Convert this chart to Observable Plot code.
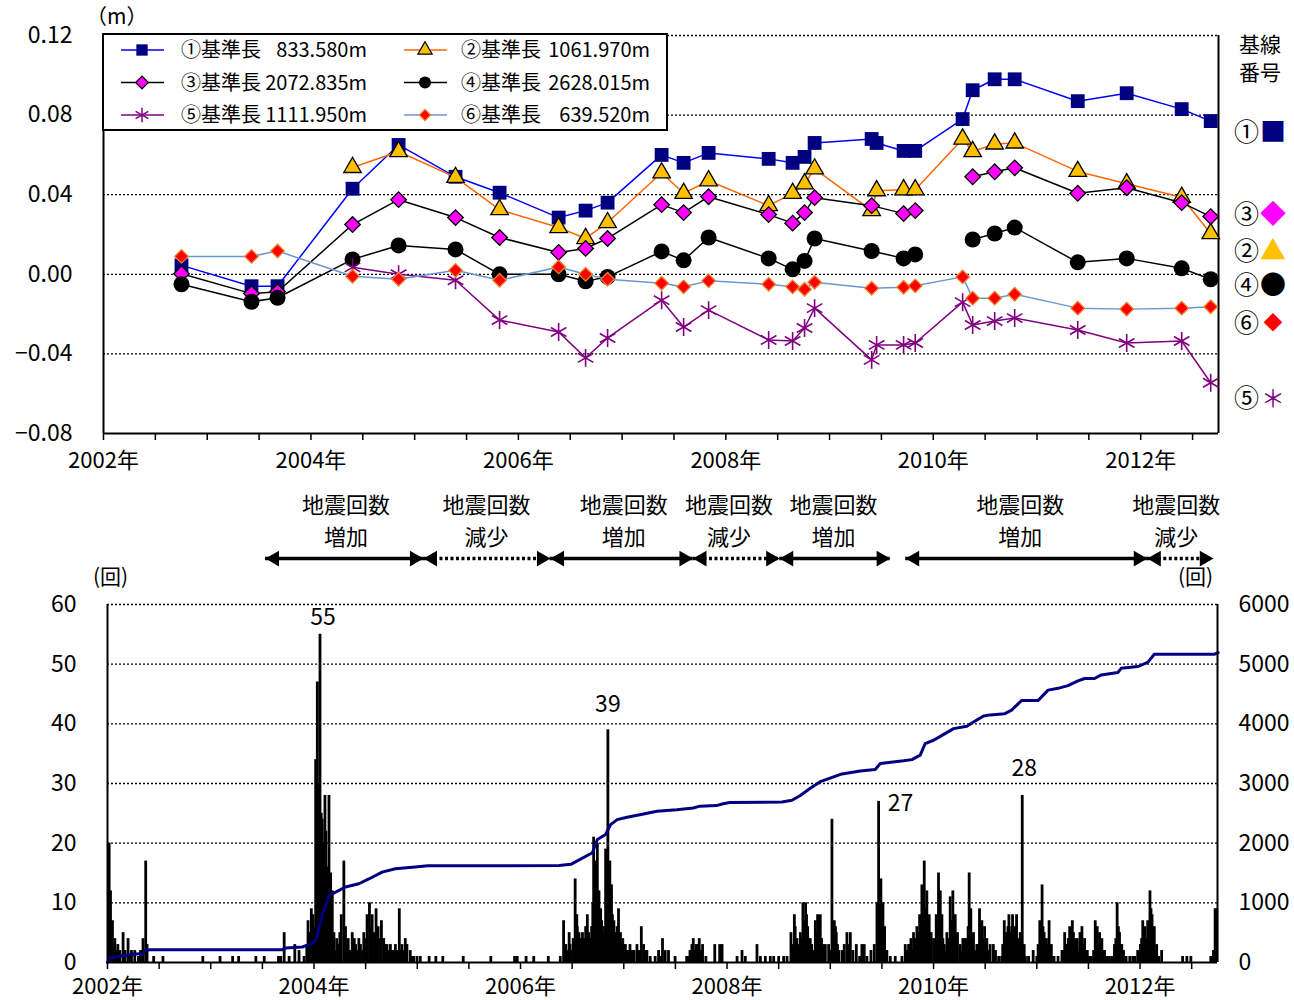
<!DOCTYPE html>
<html><head><meta charset="utf-8">
<script src="https://cdn.jsdelivr.net/npm/d3@7"></script>
<script src="https://cdn.jsdelivr.net/npm/@observablehq/plot@0.6"></script>
<style>
body{margin:0;background:#fff;font-family:"Noto Sans CJK JP","Noto Sans",sans-serif;color:#000;}
#wrap{position:relative;width:1294px;height:1000px;overflow:hidden;}
.abs{position:absolute;white-space:nowrap;line-height:1;}
</style></head><body><div id="wrap"></div><script>
// ---------------- data: baseline lengths (top chart) ----------------
const obsDates = [2002.752, 2003.427, 2003.678, 2004.401, 2004.845, 2005.394, 2005.819, 2006.388, 2006.648, 2006.86,
  2007.381, 2007.593, 2007.834, 2008.413, 2008.644, 2008.759, 2008.856, 2009.406, 2009.454, 2009.714, 2009.826,
  2010.283, 2010.38, 2010.592, 2010.785, 2011.393, 2011.865, 2012.395, 2012.675];
// null = not observed, NaN = line broken
const s1 = [0.0045, -0.006, -0.006, 0.043, 0.065, 0.049, 0.041, 0.0285, 0.032, 0.036, 0.060, 0.056, 0.061, 0.058, 0.056, 0.059, 0.066, 0.068, 0.066, 0.062, 0.062, 0.078, 0.0925, 0.098, 0.098, 0.087, 0.091, 0.083, 0.077];
const s2 = [null, null, null, 0.0537, 0.0617, 0.0487, 0.0325, 0.0235, 0.018, 0.026, 0.051, 0.0407, 0.047, 0.0345, 0.0407, 0.0455, 0.053, 0.032, 0.042, 0.0425, 0.0425, 0.068, 0.0617, 0.0655, 0.066, 0.0517, 0.0455, 0.0387, 0.0205];
const s3 = [0.0003, -0.0097, -0.0088, 0.025, 0.0375, 0.0285, 0.0185, 0.011, 0.013, 0.018, 0.035, 0.031, 0.039, 0.030, 0.0257, 0.031, 0.0385, 0.0345, null, 0.0305, 0.032, NaN, 0.049, 0.0515, 0.0535, 0.0407, 0.0435, 0.036, 0.029];
const s4 = [-0.005, -0.0138, -0.0118, 0.0075, 0.0145, 0.0125, 0.0, 0.0, -0.0035, -0.0013, 0.0115, 0.007, 0.0185, 0.008, 0.0025, 0.0067, 0.018, 0.0117, null, 0.008, 0.010, NaN, 0.0175, 0.0205, 0.0235, 0.006, 0.008, 0.003, -0.0025];
const s5 = [null, null, null, 0.0035, 0.0, -0.003, -0.023, -0.029, -0.042, -0.032, -0.013, -0.0265, -0.018, -0.033, -0.0335, -0.027, -0.017, -0.043, -0.0355, -0.0355, -0.0345, -0.014, -0.0255, -0.0235, -0.022, -0.028, -0.0345, -0.0335, -0.0545];
const s6 = [0.009, 0.009, 0.0117, -0.001, -0.0025, 0.002, -0.003, 0.0037, 0.0, -0.0025, -0.0045, -0.0063, -0.0033, -0.005, -0.0063, -0.0075, -0.004, -0.007, null, -0.0065, -0.0058, -0.0013, -0.012, -0.012, -0.010, -0.017, -0.0175, -0.017, -0.0163];
const seriesNames = ["①基準長", "②基準長", "③基準長", "④基準長", "⑤基準長", "⑥基準長"];
const seriesLengths = ["833.580m", "1061.970m", "2072.835m", "2628.015m", "1111.950m", "639.520m"];
const topTicks = [-0.08, -0.04, 0, 0.04, 0.08, 0.12];
const topGrid = [-0.04, 0, 0.04, 0.08, 0.12];

// ---------------- data: earthquake counts (bottom chart) ----------------
const dailyCounts = [
 [2002.016,20],[2002.029,12],[2002.048,7],[2002.071,4],[2002.087,2],[2002.10,3],[2002.12,2],[2002.151,5],[2002.17,2],[2002.199,4],[2002.21,1],[2002.232,2],[2002.264,2],[2002.30,1],[2002.32,2],[2002.344,4],[2002.370,17],[2002.383,3],[2002.447,1],[2002.537,1],[2002.923,1],
 [2003.090,1],[2003.212,1],[2003.270,1],[2003.437,1],[2003.518,1],[2003.656,1],[2003.678,1],[2003.711,5],[2003.759,1],[2003.814,3],[2003.855,2],[2003.904,1],[2003.93,3],[2003.942,7],[2003.96,5],[2003.974,9],[2003.99,8],
 [2004.0,6],[2004.016,34],[2004.032,47],[2004.04,20],[2004.05,30],[2004.058,55],[2004.07,25],[2004.080,24],[2004.09,20],[2004.10,18],[2004.106,28],[2004.115,22],[2004.122,16],[2004.13,14],[2004.14,12],[2004.145,28],[2004.155,10],[2004.161,15],[2004.17,8],[2004.177,12],[2004.193,5],[2004.209,2],[2004.22,4],[2004.241,3],[2004.25,5],[2004.264,8],[2004.289,17],[2004.305,6],[2004.32,3],[2004.331,4],[2004.35,2],[2004.370,5],[2004.39,4],[2004.402,3],[2004.42,2],[2004.434,4],[2004.45,3],[2004.47,2],[2004.482,5],[2004.50,4],[2004.514,8],[2004.537,10],[2004.55,6],[2004.563,8],[2004.58,5],[2004.601,9],[2004.621,6],[2004.64,4],[2004.653,7],[2004.675,4],[2004.69,3],[2004.707,3],[2004.72,2],[2004.74,3],[2004.756,2],[2004.77,2],[2004.788,3],[2004.80,2],[2004.826,9],[2004.84,2],[2004.852,3],[2004.87,2],[2004.884,4],[2004.90,3],[2004.932,2],[2004.95,1],[2004.965,1],[2004.997,1],
 [2005.029,1],[2005.115,1],[2005.18,1],[2005.247,1],[2005.445,1],[2005.712,1],[2005.942,1],[2005.968,1],
 [2006.054,1],[2006.128,1],[2006.269,1],[2006.385,1],[2006.417,7],[2006.439,3],[2006.45,2],[2006.471,5],[2006.48,3],[2006.503,2],[2006.51,4],[2006.529,14],[2006.545,8],[2006.55,6],[2006.567,5],[2006.58,4],[2006.590,3],[2006.60,5],[2006.615,4],[2006.631,6],[2006.647,8],[2006.66,5],[2006.670,4],[2006.68,3],[2006.689,6],[2006.70,10],[2006.708,21],[2006.72,12],[2006.728,17],[2006.735,15],[2006.744,20],[2006.75,9],[2006.760,12],[2006.77,8],[2006.776,9],[2006.785,7],[2006.792,6],[2006.80,5],[2006.808,4],[2006.815,6],[2006.824,19],[2006.835,10],[2006.846,39],[2006.855,12],[2006.865,17],[2006.873,10],[2006.881,13],[2006.89,8],[2006.904,7],[2006.915,5],[2006.926,4],[2006.935,6],[2006.949,9],[2006.958,4],[2006.968,5],[2006.98,3],[2006.990,4],
 [2007.0,3],[2007.016,3],[2007.03,2],[2007.048,2],[2007.06,3],[2007.080,2],[2007.10,2],[2007.128,3],[2007.15,2],[2007.170,6],[2007.192,3],[2007.21,2],[2007.224,2],[2007.256,1],[2007.304,1],[2007.337,2],[2007.36,1],[2007.375,4],[2007.401,2],[2007.433,2],[2007.497,1],[2007.609,1],[2007.62,1],[2007.641,2],[2007.66,3],[2007.673,4],[2007.69,2],[2007.699,3],[2007.72,3],[2007.731,4],[2007.75,2],[2007.763,3],[2007.795,1],[2007.881,3],[2007.929,3],[2007.952,3],
 [2008.097,1],[2008.145,2],[2008.177,1],[2008.290,3],[2008.323,1],[2008.371,1],[2008.419,1],[2008.452,1],[2008.5,1],[2008.548,1],[2008.581,1],[2008.619,5],[2008.64,3],[2008.652,8],[2008.66,6],[2008.677,4],[2008.69,3],[2008.71,5],[2008.72,4],[2008.735,10],[2008.75,7],[2008.761,10],[2008.77,8],[2008.781,6],[2008.79,4],[2008.806,4],[2008.82,3],[2008.839,2],[2008.855,7],[2008.865,5],[2008.877,8],[2008.89,6],[2008.903,8],[2008.915,4],[2008.929,3],[2008.952,3],[2008.984,3],
 [2009.0,2],[2009.016,24],[2009.03,4],[2009.039,7],[2009.05,6],[2009.058,5],[2009.07,3],[2009.081,2],[2009.113,2],[2009.135,3],[2009.161,5],[2009.17,3],[2009.194,5],[2009.219,2],[2009.252,3],[2009.284,1],[2009.306,3],[2009.329,3],[2009.355,1],[2009.394,2],[2009.426,3],[2009.452,10],[2009.46,5],[2009.468,27],[2009.48,8],[2009.490,14],[2009.50,9],[2009.510,10],[2009.52,4],[2009.526,6],[2009.548,2],[2009.581,1],[2009.629,1],[2009.694,1],[2009.726,3],[2009.74,2],[2009.758,3],[2009.77,3],[2009.781,4],[2009.79,2],[2009.806,5],[2009.82,4],[2009.839,6],[2009.85,5],[2009.865,8],[2009.875,7],[2009.887,13],[2009.90,10],[2009.910,17],[2009.92,9],[2009.935,12],[2009.945,6],[2009.958,8],[2009.97,4],[2009.977,5],
 [2010.0,4],[2010.01,3],[2010.026,8],[2010.037,6],[2010.048,15],[2010.057,10],[2010.065,12],[2010.073,6],[2010.081,8],[2010.09,4],[2010.103,3],[2010.115,2],[2010.129,5],[2010.145,4],[2010.161,11],[2010.17,7],[2010.187,12],[2010.20,6],[2010.210,8],[2010.22,4],[2010.232,5],[2010.258,3],[2010.27,2],[2010.284,4],[2010.306,4],[2010.323,4],[2010.335,6],[2010.345,15],[2010.361,9],[2010.37,4],[2010.387,5],[2010.40,2],[2010.419,3],[2010.43,3],[2010.445,9],[2010.455,5],[2010.468,7],[2010.48,4],[2010.494,6],[2010.505,3],[2010.516,4],[2010.53,2],[2010.548,3],[2010.579,3],[2010.60,2],[2010.63,1],[2010.659,1],[2010.67,3],[2010.685,7],[2010.695,4],[2010.707,5],[2010.72,6],[2010.730,8],[2010.74,3],[2010.749,5],[2010.757,6],[2010.765,8],[2010.777,4],[2010.788,6],[2010.795,5],[2010.804,8],[2010.812,3],[2010.820,4],[2010.83,3],[2010.839,5],[2010.85,4],[2010.859,28],[2010.87,2],[2010.878,3],[2010.89,1],[2010.92,1],[2010.965,2],
 [2011.00,1],[2011.013,3],[2011.029,7],[2011.04,4],[2011.051,13],[2011.06,6],[2011.071,5],[2011.08,3],[2011.093,4],[2011.105,3],[2011.119,7],[2011.13,2],[2011.141,3],[2011.15,1],[2011.167,1],[2011.206,1],[2011.244,2],[2011.26,2],[2011.270,5],[2011.285,3],[2011.296,2],[2011.305,4],[2011.318,6],[2011.33,3],[2011.344,7],[2011.355,5],[2011.367,4],[2011.38,3],[2011.392,4],[2011.405,2],[2011.418,5],[2011.437,6],[2011.45,3],[2011.463,4],[2011.475,2],[2011.489,2],[2011.51,1],[2011.527,1],[2011.55,2],[2011.566,7],[2011.575,4],[2011.585,6],[2011.595,3],[2011.608,5],[2011.62,2],[2011.630,4],[2011.64,2],[2011.656,2],[2011.68,1],[2011.704,1],[2011.73,1],[2011.752,3],[2011.765,4],[2011.778,10],[2011.79,6],[2011.801,5],[2011.81,3],[2011.823,3],[2011.84,2],[2011.865,1],[2011.90,1],[2011.929,1],[2011.95,1],[2011.977,2],[2011.99,2],
 [2012.003,3],[2012.015,4],[2012.026,7],[2012.037,5],[2012.048,6],[2012.06,4],[2012.074,7],[2012.085,6],[2012.096,12],[2012.106,9],[2012.116,8],[2012.127,4],[2012.138,6],[2012.15,2],[2012.161,3],[2012.18,1],[2012.209,2],[2012.412,1],[2012.453,1],[2012.492,1],[2012.685,1],[2012.70,1],[2012.711,2],[2012.727,9],[2012.743,9]
];
const cumulative = [
 [2002.0,0],[2002.023,70],[2002.087,95],[2002.183,120],[2002.248,140],[2002.344,150],[2002.370,205],[2002.408,215],[2003.695,215],[2003.727,245],[2003.887,260],[2003.984,320],[2004.016,375],[2004.080,790],[2004.145,1125],[2004.177,1150],[2004.305,1265],[2004.434,1320],[2004.531,1400],[2004.659,1515],[2004.788,1570],[2004.981,1600],[2005.1,1620],[2006.375,1625],[2006.487,1645],[2006.696,1840],[2006.744,2060],[2006.824,2145],[2006.872,2310],[2006.936,2395],[2007.032,2435],[2007.192,2490],[2007.321,2535],[2007.513,2560],[2007.673,2590],[2007.737,2620],[2007.897,2630],[2007.962,2660],[2008.026,2680],[2008.532,2690],[2008.629,2720],[2008.710,2800],[2008.806,2920],[2008.903,3030],[2009.032,3110],[2009.113,3160],[2009.290,3210],[2009.435,3235],[2009.484,3335],[2009.710,3380],[2009.790,3400],[2009.871,3475],[2009.919,3670],[2010.0,3725],[2010.065,3790],[2010.194,3920],[2010.323,3960],[2010.387,4030],[2010.484,4130],[2010.548,4150],[2010.691,4170],[2010.756,4230],[2010.852,4390],[2011.013,4390],[2011.109,4565],[2011.206,4595],[2011.302,4640],[2011.399,4720],[2011.463,4760],[2011.559,4760],[2011.624,4820],[2011.785,4860],[2011.817,4930],[2011.977,4960],[2012.074,5030],[2012.138,5165],[2012.717,5165],[2012.756,5195]
];
const peaks = [[2004.058,55],[2006.846,39],[2009.468,27],[2010.859,28]];
const countTicks = [0,10,20,30,40,50,60];
const cumTicks = [0,1000,2000,3000,4000,5000,6000];

// ---------------- data: trend arrows ----------------
const arrowFrom  = [2003.53, 2005.06, 2006.29, 2007.67, 2008.51, 2009.73, 2012.07];
const arrowTo    = [2005.06, 2006.29, 2007.67, 2008.51, 2009.58, 2012.07, 2012.71];
const arrowTrend = ["増加", "減少", "増加", "減少", "増加", "増加", "減少"];
const arrowLabelX = [2004.31, 2005.67, 2007.0, 2008.02, 2009.03, 2010.84, 2012.35];

// ---------------- shared ----------------
const FONT = '"Noto Sans CJK JP","Noto Sans",sans-serif';
const xDomain = [2002, 2012.75];
const halfYears = d3.range(2002, 2012.75, 0.5);
const yearFmt = d => (d % 2 === 0 ? `${d}年` : "");
const wrap = document.getElementById("wrap");
function place(node, left, top) {
  const div = document.createElement("div");
  div.className = "abs"; div.style.left = left + "px"; div.style.top = top + "px";
  div.appendChild(node); wrap.appendChild(div); return div;
}
function label(html, left, top, size, extra = "") {
  const div = document.createElement("div");
  div.className = "abs";
  div.style.cssText += `left:${left}px;top:${top}px;font-size:${size}px;${extra}`;
  div.innerHTML = html; wrap.appendChild(div); return div;
}

const styles = [
  {line: "#0000ff", symbol: "square", r: 7.8, fill: "#000080", stroke: "none", rotate: 0},
  {line: "#ff6600", symbol: "triangle", r: 6.5, fill: "#ffc000", stroke: "#000", rotate: 0},
  {line: "#000000", symbol: "square", r: 6.2, fill: "#ff00ff", stroke: "#000", rotate: 45},
  {line: "#000000", symbol: "circle", r: 8, fill: "#000", stroke: "none", rotate: 0},
  {line: "#800080", symbol: "asterisk", r: 8.5, fill: "none", stroke: "#800080", rotate: 0},
  {line: "#6a97cf", symbol: "square", r: 5.4, fill: "#ff0000", stroke: "#e8832a", rotate: 45}
];
const allSeries = [s1, s2, s3, s4, s5, s6];

// ---------------- top plot ----------------
const seriesMarks = allSeries.flatMap((vals, i) => {
  const st = styles[i];
  const rows = obsDates.map((d, j) => ({x: d, y: vals[j]})).filter(r => r.y !== null);
  return [
    Plot.line(rows, {x: "x", y: "y", stroke: st.line, strokeWidth: 1.5}),
    Plot.dot(rows.filter(r => Number.isFinite(r.y)), {x: "x", y: "y", symbol: st.symbol, r: st.r,
      fill: st.fill, stroke: st.stroke, strokeWidth: st.symbol === "asterisk" ? 1.6 : 1.3, rotate: st.rotate})
  ];
});
const topPlot = Plot.plot({
  width: 1294, height: 480,
  marginLeft: 103, marginRight: 76, marginTop: 35, marginBottom: 47,
  style: {fontFamily: FONT, fontSize: "21px", background: "transparent", overflow: "visible", color: "#000"},
  x: {domain: xDomain},
  y: {domain: [-0.08, 0.12]},
  marks: [
    Plot.ruleY(topGrid, {stroke: "#000", strokeDasharray: "2,2", strokeWidth: 1.3}),
    Plot.ruleY([-0.08], {stroke: "#000", strokeWidth: 2}),
    Plot.ruleX(xDomain, {stroke: "#000", strokeWidth: 2}),
    Plot.axisY({ticks: topTicks, tickFormat: d => (d < 0 ? "−" : "") + Math.abs(d).toFixed(2), tickSize: 0, tickPadding: 31, fontSize: 23, label: null}),
    Plot.axisX({ticks: halfYears, tickFormat: yearFmt, tickSize: 7, tickPadding: 12, fontSize: 22, label: null, strokeWidth: 1.5}),
    ...seriesMarks
  ]
});
place(topPlot, 0, 0);

// ---------------- middle (arrows) ----------------
const segs = arrowFrom.map((a, i) => ({from: a, to: arrowTo[i], trend: arrowTrend[i]}));
const segLabels = arrowLabelX.map((x, i) => ({x, trend: arrowTrend[i]}));
const AY = () => 0.133;
const midPlot = Plot.plot({
  width: 1294, height: 90,
  marginLeft: 107, marginRight: 77, marginTop: 0, marginBottom: 0,
  style: {fontFamily: FONT, background: "transparent", overflow: "visible", color: "#000"},
  x: {domain: xDomain, axis: null},
  y: {domain: [0, 1], axis: null},
  marks: [
    Plot.ruleY(segs.filter(d => d.trend === "増加"), {x1: "from", x2: "to", y: AY, stroke: "#000", strokeWidth: 3.5}),
    Plot.ruleY(segs.filter(d => d.trend === "減少"), {x1: "from", x2: "to", y: AY, stroke: "#000", strokeWidth: 3.5, strokeDasharray: "3,2.5"}),
    Plot.dot(segs, {x: "from", y: AY, symbol: "triangle2", r: 7.5, rotate: -90, fill: "#000", dx: 9}),
    Plot.dot(segs, {x: "to", y: AY, symbol: "triangle2", r: 7.5, rotate: 90, fill: "#000", dx: -9}),
    Plot.text(segLabels, {x: "x", y: () => 0.722, text: () => "地震回数", fontSize: 22}),
    Plot.text(segLabels, {x: "x", y: () => 0.367, text: "trend", fontSize: 22})
  ]
});
place(midPlot, 0, 480);

// ---------------- bottom plot ----------------
const peakOffsets = [[3, -17], [0, -25], [22, 2], [2, -27]];
const botPlot = Plot.plot({
  width: 1294, height: 430,
  marginLeft: 107, marginRight: 77, marginTop: 34, marginBottom: 38,
  style: {fontFamily: FONT, fontSize: "21px", background: "transparent", overflow: "visible", color: "#000"},
  x: {domain: xDomain},
  y: {domain: [0, 60]},
  marks: [
    Plot.ruleY(countTicks.slice(1), {stroke: "#000", strokeDasharray: "2,2", strokeWidth: 1.3}),
    Plot.ruleX(dailyCounts, {x: d => d[0], y1: 0, y2: d => d[1], stroke: "#000", strokeWidth: 2.8}),
    Plot.line(cumulative, {x: d => d[0], y: d => d[1] / 100, stroke: "#000080", strokeWidth: 3}),
    Plot.ruleY([0], {stroke: "#000", strokeWidth: 2}),
    Plot.ruleX(xDomain, {stroke: "#000", strokeWidth: 2}),
    Plot.axisY({anchor: "left", ticks: countTicks, tickSize: 0, tickPadding: 31, fontSize: 23, label: null}),
    Plot.axisY({anchor: "right", ticks: cumTicks.map(v => v / 100), tickFormat: d => String(Math.round(d * 100)), tickSize: 0, tickPadding: 21, fontSize: 23, label: null}),
    Plot.axisX({ticks: halfYears, tickFormat: yearFmt, tickSize: 7, tickPadding: 9, fontSize: 22, label: null, strokeWidth: 1.5}),
    ...peaks.map((p, i) => Plot.text([p], {x: d => d[0], y: d => d[1], text: d => String(d[1]), dx: peakOffsets[i][0], dy: peakOffsets[i][1], fontSize: 23}))
  ]
});
place(botPlot, 0, 570);

// ---------------- legend box ----------------
const lg = d3.create("svg").attr("width", 568).attr("height", 100)
  .style("font-family", FONT).style("overflow", "visible");
lg.append("rect").attr("x", 1).attr("y", 1).attr("width", 564).attr("height", 96)
  .attr("fill", "#fff").attr("stroke", "#000").attr("stroke-width", 2);
const symMap = {square: d3.symbolSquare, triangle: d3.symbolTriangle, circle: d3.symbolCircle, asterisk: d3.symbolAsterisk};
seriesNames.forEach((name, i) => {
  const col = i % 2, row = Math.floor(i / 2), st = styles[i];
  const y = 17 + row * 32.5, lx = col ? 302 : 19, mx = lx + 21;
  lg.append("line").attr("x1", lx).attr("x2", lx + 43).attr("y1", y).attr("y2", y)
    .attr("stroke", st.line).attr("stroke-width", 1.5);
  const k = st.symbol === "circle" ? 0.75 : 0.82;
  lg.append("path").attr("d", d3.symbol(symMap[st.symbol], Math.PI * (st.r * k) ** 2)())
    .attr("transform", `translate(${mx},${y}) rotate(${st.rotate})`)
    .attr("fill", st.fill).attr("stroke", st.stroke).attr("stroke-width", st.symbol === "asterisk" ? 1.5 : 1.2);
  lg.append("text").attr("x", col ? 359 : 79).attr("y", y).attr("dy", "0.35em")
    .attr("font-size", 20).text(name);
  lg.append("text").attr("x", col ? 548 : 265).attr("y", y).attr("dy", "0.35em")
    .attr("font-size", 20).attr("text-anchor", "end").text(seriesLengths[i]);
});
place(lg.node(), 102, 33);

// ---------------- text labels around the charts ----------------
label("（m）", 86, 5, 21);
label("基線<br>番号", 1239, 29, 21, "line-height:28px;");
const sideLabels = [
  ["①", "■", "#000080", 117, 26], ["③", "◆", "#ff00ff", 199, 26], ["②", "▲", "#ffc000", 236, 26],
  ["④", "●", "#000000", 270, 26], ["⑥", "◆", "#ff0000", 309, 19], ["⑤", "＊", "#800080", 384, 24]
];
sideLabels.forEach(([n, s, c, top, sz]) => {
  label(`${n}<span style="color:${c};font-size:${sz}px;display:inline-block;width:28px;text-align:center;">${s}</span>`, 1234, top, 25, "display:flex;align-items:center;");
});
label("(回)", 93, 565, 21);
label("(回)", 1178, 565, 21);
</script></body></html>
